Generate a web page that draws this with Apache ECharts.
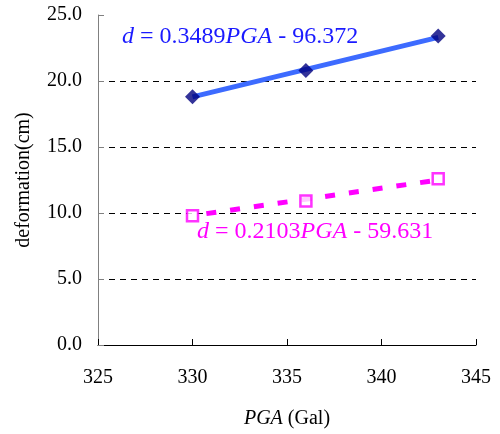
<!DOCTYPE html>
<html><head><meta charset="utf-8">
<script src="https://cdn.jsdelivr.net/npm/echarts@6/dist/echarts.min.js"></script>
<style>html,body{margin:0;padding:0;background:#fff}#c{width:500px;height:434px}</style>
</head><body><div id="c"></div>
<script>
const pga = [330, 336, 343];
const seriesA = [18.8, 20.8, 23.4];
const seriesB = [9.8, 10.9, 12.6];
const trendA = [18.8, 23.3];
const trendB = [9.8, 12.5];
const trendX = [330, 343];
const yTicks = [0, 5, 10, 15, 20, 25];
const xTicks = [325, 330, 335, 340, 345];

const F = 'Liberation Serif, Times New Roman, serif';
const chart = echarts.init(document.getElementById('c'));
chart.setOption({
  animation: false,
  grid: {left: 98, right: 24, top: 15, bottom: 88, containLabel: false},
  xAxis: {
    type: 'value', min: xTicks[0], max: xTicks[xTicks.length-1], interval: 5,
    axisLine: {lineStyle: {color: '#000', width: 1}},
    axisTick: {show: true, inside: true, length: 6, lineStyle: {color: '#000'}},
    axisLabel: {fontFamily: F, fontSize: 20, color: '#000', margin: 23},
    splitLine: {show: false},
    name: '{i|PGA} (Gal)', nameLocation: 'middle', nameGap: 64,
    nameTextStyle: {fontFamily: F, fontSize: 20, color: '#000',
      rich: {i: {fontFamily: F, fontSize: 20, fontStyle: 'italic', color: '#000'}}}
  },
  yAxis: {
    type: 'value', min: 0, max: 25, interval: 5,
    axisLine: {show: true, lineStyle: {color: '#808080', width: 1}},
    axisTick: {show: true, inside: true, length: 6, lineStyle: {color: '#808080'}},
    axisLabel: {fontFamily: F, fontSize: 20, color: '#000', margin: 16,
      formatter: v => v.toFixed(1)},
    splitLine: {show: true, lineStyle: {color: ['transparent','#000','#000','#000','#000','transparent'], type: [6,5], width: 1}},
    name: 'deformation(cm)', nameLocation: 'middle', nameGap: 64, nameRotate: 90,
    nameTextStyle: {fontFamily: F, fontSize: 20, color: '#000'}
  },
  series: [
    {type: 'line', data: trendX.map((x,i)=>[x, trendA[i]]), symbol: 'none',
     lineStyle: {color: '#3d6bff', width: 5}, z: 2},
    {type: 'line', data: trendX.map((x,i)=>[x, trendB[i]]), symbol: 'none',
     lineStyle: {color: '#ff00ff', width: 5, type: [10, 14], dashOffset: -14}, z: 2},
    {type: 'scatter', data: pga.map((x,i)=>[x, seriesA[i]]), symbol: 'diamond', symbolSize: [15,15],
     itemStyle: {color: '#000080'}, z: 3},
    {type: 'scatter', data: pga.map((x,i)=>[x, seriesB[i]]), symbol: 'rect', symbolSize: 11,
     itemStyle: {color: '#fff', borderColor: '#ff00ff', borderWidth: 2.5}, z: 3}
  ],
  graphic: [
    {type: 'text', left: 122, top: 25, style: {
      text: '{i|d} = 0.3489{i|PGA} - 96.372', fill: '#1a1aff', font: '24px ' + F,
      rich: {i: {fontStyle: 'italic', fontFamily: F, fontSize: 24, fill: '#1a1aff'}}}},
    {type: 'text', left: 197, top: 220, style: {
      text: '{i|d} = 0.2103{i|PGA} - 59.631', fill: '#ff00ff', font: '24px ' + F,
      rich: {i: {fontStyle: 'italic', fontFamily: F, fontSize: 24, fill: '#ff00ff'}}}}
  ]
});
</script></body></html>
